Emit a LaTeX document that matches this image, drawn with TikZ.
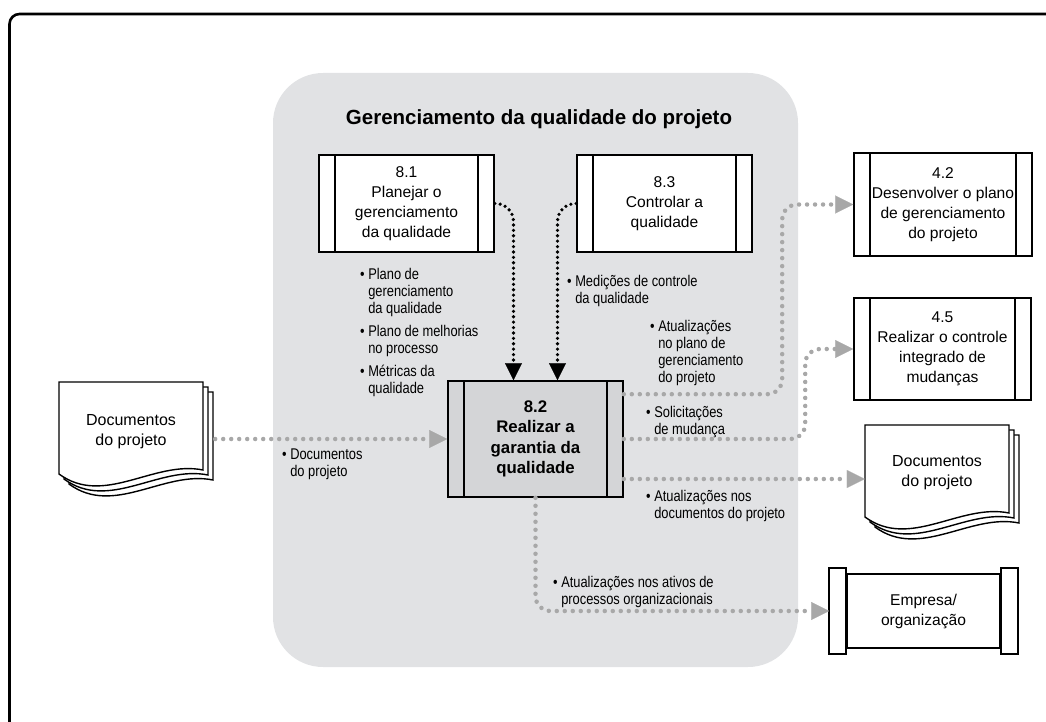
\documentclass[tikz,border=0pt]{standalone}
\usepackage{fontspec}
\setmainfont{Liberation Sans}
\newfontfamily\condfont[FakeStretch=0.83]{Liberation Sans}
\usetikzlibrary{arrows.meta,calc}
\definecolor{regiongray}{HTML}{E1E2E4}
\definecolor{boxgray}{HTML}{D4D5D7}
\definecolor{dotgray}{HTML}{A8A8A8}
\newcommand\bl{\textbullet\ }
\newcommand\ind{\hphantom{\textbullet\ }}
\tikzset{
  boxfont/.style={font=\fontsize{15.6}{20}\selectfont},
  proc/.style 2 args={draw, line width=1.6pt, fill=white, align=center, inner sep=0pt,
    boxfont, minimum width=#1, minimum height=#2,
    path picture={\draw[line width=1.6pt]
      ([xshift=16pt]path picture bounding box.north west) -- ([xshift=16pt]path picture bounding box.south west)
      ([xshift=-16pt]path picture bounding box.north east) -- ([xshift=-16pt]path picture bounding box.south east);}},
  doctext/.style={align=center, inner sep=0pt, font=\fontsize{16}{20}\selectfont, minimum width=144pt},
  lbl/.style={align=left, inner sep=0pt, anchor=north west, font=\condfont\fontsize{15.5}{17}\selectfont},
  gdot/.style={draw=dotgray, line width=4.5pt, line cap=round, dash pattern=on 0pt off 8pt,
    -{Triangle[length=18pt,width=18pt,line width=0.1pt,fill=dotgray,color=dotgray]}},
  bdot/.style={draw=black, line width=3.6pt, line cap=round, dash pattern=on 0pt off 5.4pt,
    -{Triangle[length=17pt,width=17pt,line width=0.1pt,fill=black]}},
  docstack/.pic={
    \foreach \o in {10,5,0} {
      \draw[line width=1.4pt, fill=white] (\o,\o) -- (144+\o,\o) -- (144+\o,88+\o)
        .. controls (95+\o,78+\o) and (45+\o,125+\o) .. (\o,92+\o) -- cycle;
    }
  }
}
\begin{document}
\begin{tikzpicture}[x=1pt,y=-1pt]
\useasboundingbox (0,0) rectangle (1046,722);
% outer frame
\draw[line width=2.6pt, rounded corners=10pt] (9.5,14) rectangle (1100,780);
% grey region
\fill[regiongray, rounded corners=50pt] (273,73) rectangle (798,667);
\node[font=\fontsize{20.5}{24}\selectfont\bfseries] (title) at (539,119) {Gerenciamento da qualidade do projeto};

% process boxes
\node[proc={175pt}{97pt}] (p81) at (406.5,203.5) {8.1\\Planejar o\\gerenciamento\\da qualidade};
\node[proc={175pt}{97pt}] (p83) at (664.5,203.5) {8.3\\Controlar a\\qualidade};
\node[proc={175pt}{116pt}, fill=boxgray, font=\fontsize{16.8}{20.5}\selectfont\bfseries] (p82) at (535.5,439) {8.2\\Realizar a\\garantia da\\qualidade};
\node[proc={178pt}{103pt}] (p42) at (943,204.5) {4.2\\Desenvolver o plano\\de gerenciamento\\do projeto};
\node[proc={177pt}{102pt}] (p45) at (942.5,349) {4.5\\Realizar o controle\\integrado de\\mudanças};

% documents
\pic at (59,382) {docstack};
\node[doctext] (ldoc) at (131,432) {Documentos\\do projeto};
\pic at (865,425) {docstack};
\node[doctext] (rdoc) at (937,473) {Documentos\\do projeto};

% enterprise
\node[draw, line width=1.6pt, fill=white, boxfont, align=center, minimum width=153pt, minimum height=74pt, inner sep=0pt] (emp) at (923.5,611) {Empresa/\\organização};
\draw[line width=1.6pt, fill=white] ([xshift=-17pt,yshift=5pt]emp.north west) rectangle ([yshift=-5pt]emp.south west);
\draw[line width=1.6pt, fill=white] ([yshift=5pt]emp.north east) rectangle ([xshift=17pt,yshift=-5pt]emp.south east);

% inputs
\draw[bdot, rounded corners=18pt] (p81.east) -| ([xshift=-22pt]p82.north);
\draw[bdot, rounded corners=18pt] (p83.west) -| ([xshift=22pt]p82.north);
\draw[gdot] ($(p82.west -| ldoc.east)+(12,0)$) -- (p82.west);

% outputs
\draw[gdot, rounded corners=15pt] ([yshift=-14pt]p82.north east) -| ([xshift=-71pt]p42.west) -- (p42.west);
\draw[gdot, rounded corners=15pt] (p82.east) -| ([xshift=-48pt]p45.west) -- (p45.west);
\draw[gdot] ([yshift=-40pt]p82.east) -- ([yshift=-40pt]p82.east -| rdoc.west);
\draw[gdot, rounded corners=15pt] (p82.south) |- ([xshift=-17pt]emp.west);

% labels
\node[lbl] (l81) at (360,268) {\bl Plano de\\\ind gerenciamento\\\ind da qualidade\\[6pt]\bl Plano de melhorias\\\ind no processo\\[6pt]\bl Métricas da\\\ind qualidade};
\node[lbl] (l83) at (567,275) {\bl Medições de controle\\\ind da qualidade};
\node[lbl] (lpm) at (650,320) {\bl Atualizações\\\ind no plano de\\\ind gerenciamento\\\ind do projeto};
\node[lbl] (lsm) at (646,406) {\bl Solicitações\\\ind de mudança};
\node[lbl] (ldc) at (646,490) {\bl Atualizações nos\\\ind documentos do projeto};
\node[lbl] (lop) at (553,576) {\bl Atualizações nos ativos de\\\ind processos organizacionais};
\node[lbl] (lin) at (282,449) {\bl Documentos\\\ind do projeto};
\end{tikzpicture}
\end{document}
